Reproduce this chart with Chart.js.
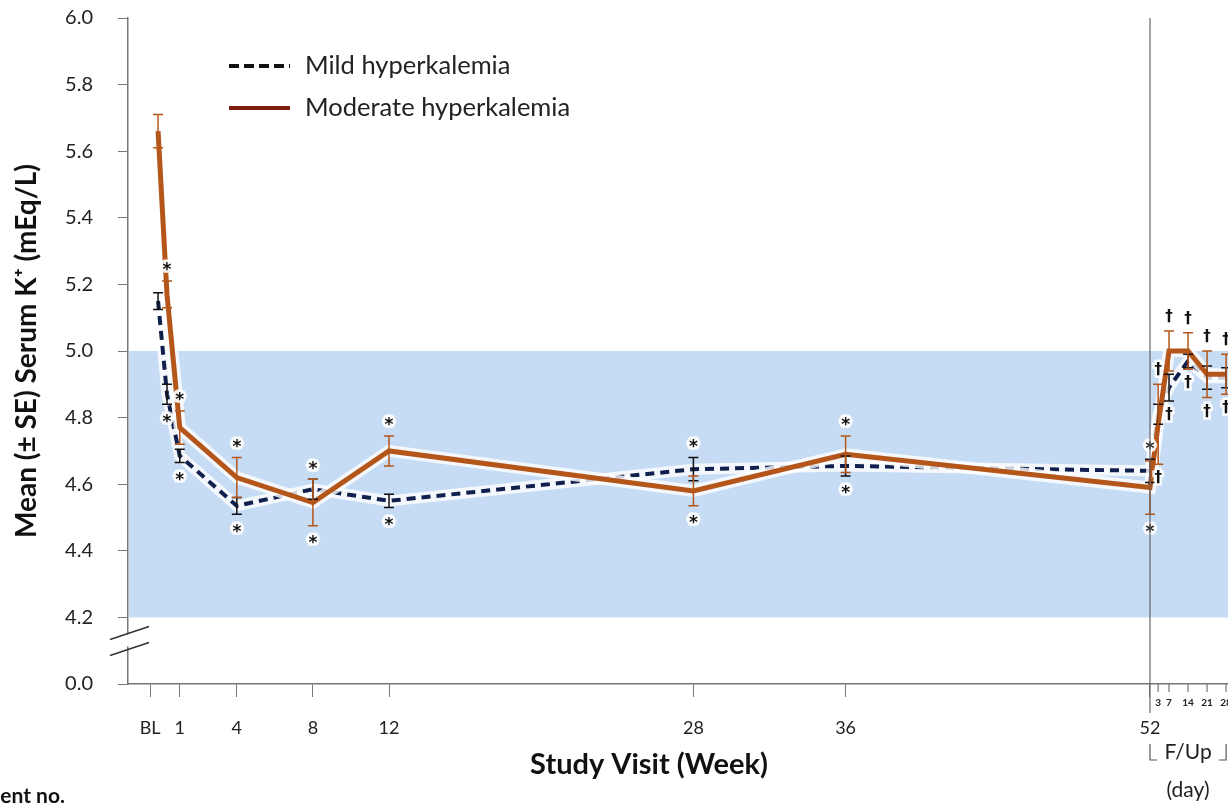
<!DOCTYPE html>
<html lang="en">
<head>
	<meta charset="UTF-8">
	<title>serum K+ by visit</title>
	<script src="https://cdn.jsdelivr.net/npm/chart.js@4.4.1/dist/chart.umd.min.js"></script>
	<style>
		html, body { margin: 0; padding: 0; background: #fff; }
	</style>
</head>
<body>
	<canvas id="myChart" width="1228" height="804"></canvas>
<script>
	// visits on a week scale (follow-up days sit after week 52 as day/7)
	const weeks = [-0.14, 0.33, 1, 4, 8, 12, 28, 36, 52, 52.43, 53, 54, 55, 56];
	const mildMean = [5.15, 4.87, 4.685, 4.535, 4.585, 4.55, 4.645, 4.655, 4.64, 4.81, 4.89, 4.97, 4.92, 4.92];
	const mildSE = [0.025, 0.03, 0.02, 0.025, 0.03, 0.02, 0.035, 0.03, 0.035, 0.03, 0.04, 0.02, 0.035, 0.03];
	const modMean = [5.66, 5.17, 4.77, 4.62, 4.545, 4.70, 4.58, 4.69, 4.59, 4.78, 5.00, 5.00, 4.93, 4.93];
	const modSE = [0.05, 0.04, 0.05, 0.06, 0.07, 0.045, 0.045, 0.055, 0.08, 0.12, 0.06, 0.055, 0.07, 0.06];
	const sigMarks = ['', '*', '*', '*', '*', '*', '*', '*', '*', '†', '†', '†', '†', '†'];

	const weekTicks = [-0.56, 1, 4, 8, 12, 28, 36, 52];
	const weekLabels = ['BL', '1', '4', '8', '12', '28', '36', '52'];
	const fupDays = [3, 7, 14, 21, 28];
	const yTicks = [4.0, 4.2, 4.4, 4.6, 4.8, 5.0, 5.2, 5.4, 5.6, 5.8, 6.0];
	const yLabels = ['0.0', '4.2', '4.4', '4.6', '4.8', '5.0', '5.2', '5.4', '5.6', '5.8', '6.0'];
	const normalRange = [4.2, 5.0];

	const FONT = 'Lato, "Open Sans", sans-serif';
	const NAVY = '#10204c';
	const BROWN = '#b4561a';

	const pts = arr => weeks.map((w, i) => ({ x: w, y: arr[i] }));

	const overlay = {
		id: 'overlay',
		beforeDraw(chart) {
			const { ctx, chartArea: a, scales: { y } } = chart;
			ctx.save();
			ctx.fillStyle = '#c6dcf4';
			const t = y.getPixelForValue(normalRange[1]), b = y.getPixelForValue(normalRange[0]);
			ctx.fillRect(a.left + 1, t, a.right - a.left, b - t);
			ctx.restore();
		},
		afterDatasetsDraw(chart) {
			const { ctx, scales: { x, y } } = chart;
			ctx.save();
			// error bars
			[[mildMean, mildSE, '#111'], [modMean, modSE, BROWN]].forEach(([m, se, col]) => {
				ctx.strokeStyle = col;
				ctx.lineWidth = 1.5;
				m.forEach((v, i) => {
					const px = x.getPixelForValue(weeks[i]);
					const t = y.getPixelForValue(v + se[i]), b = y.getPixelForValue(v - se[i]);
					ctx.beginPath();
					ctx.moveTo(px, t); ctx.lineTo(px, b);
					ctx.moveTo(px - 5, t); ctx.lineTo(px + 5, t);
					ctx.moveTo(px - 5, b); ctx.lineTo(px + 5, b);
					ctx.stroke();
				});
			});
			// significance marks above and below each visit
			ctx.textAlign = 'center';
			ctx.textBaseline = 'middle';
			sigMarks.forEach((s, i) => {
				if (!s) return;
				const px = x.getPixelForValue(weeks[i]);
				const top = Math.min(y.getPixelForValue(mildMean[i] + mildSE[i]), y.getPixelForValue(modMean[i] + modSE[i])) - 14;
				const bot = Math.max(y.getPixelForValue(mildMean[i] - mildSE[i]), y.getPixelForValue(modMean[i] - modSE[i])) + 14;
				const dy = s === '*' ? 4 : 0;
				ctx.font = s === '*' ? 'bold 17px "DejaVu Sans"' : 'bold 15px "DejaVu Sans"';
				[top, bot].forEach(py => {
					ctx.strokeStyle = 'rgba(255,255,255,0.9)';
					ctx.lineWidth = 5;
					ctx.strokeText(s, px, py + dy);
					ctx.fillStyle = '#111';
					ctx.fillText(s, px, py + dy);
				});
			});
			ctx.restore();
		},
		afterDraw(chart) {
			const { ctx, chartArea: a, scales: { x, y } } = chart;
			ctx.save();
			// axis break
			const yb = y.getPixelForValue(normalRange[0]) + 23;
			ctx.fillStyle = '#fff';
			ctx.fillRect(a.left - 2, yb - 6, 4, 12);
			ctx.strokeStyle = '#333';
			ctx.lineWidth = 1.6;
			ctx.beginPath();
			ctx.moveTo(a.left - 18, yb - 1); ctx.lineTo(a.left + 21, yb - 14);
			ctx.moveTo(a.left - 18, yb + 15); ctx.lineTo(a.left + 21, yb + 2);
			ctx.stroke();

			// week 52 divider
			const x52 = x.getPixelForValue(52);
			ctx.strokeStyle = '#666';
			ctx.lineWidth = 1.2;
			ctx.beginPath();
			ctx.moveTo(x52, a.top); ctx.lineTo(x52, a.bottom + 29);
			ctx.stroke();

			// follow-up day ticks
			ctx.strokeStyle = '#777';
			ctx.lineWidth = 1.2;
			ctx.fillStyle = '#222';
			ctx.font = 'bold 10px ' + FONT;
			ctx.textAlign = 'center';
			ctx.textBaseline = 'middle';
			fupDays.forEach(d => {
				const px = x.getPixelForValue(52 + d / 7);
				ctx.beginPath();
				ctx.moveTo(px, a.bottom); ctx.lineTo(px, a.bottom + 8);
				ctx.stroke();
				ctx.fillText(String(d), px, a.bottom + 19);
			});

			// F/Up bracket
			const xe = x.getPixelForValue(56);
			ctx.strokeStyle = '#555';
			ctx.beginPath();
			ctx.moveTo(x52, a.bottom + 60); ctx.lineTo(x52, a.bottom + 76); ctx.lineTo(x52 + 7, a.bottom + 76);
			ctx.moveTo(xe - 7, a.bottom + 76); ctx.lineTo(xe, a.bottom + 76); ctx.lineTo(xe, a.bottom + 60);
			ctx.stroke();
			ctx.font = '21px ' + FONT;
			ctx.fillStyle = '#222';
			const xm = (x52 + xe) / 2;
			ctx.fillText('F/Up', xm, a.bottom + 68);
			ctx.fillText('(day)', xm, a.bottom + 106);

			// x title
			ctx.font = 'bold 29px ' + FONT;
			ctx.fillStyle = '#111';
			ctx.fillText('Study Visit (Week)', 649, a.bottom + 81);

			// cut-off table caption
			ctx.font = 'bold 21px ' + FONT;
			ctx.textAlign = 'right';
			ctx.textBaseline = 'alphabetic';
			ctx.fillText('Patient no.', 65, 803);

			// legend
			ctx.textAlign = 'left';
			ctx.textBaseline = 'middle';
			ctx.font = '25.5px ' + FONT;
			const items = [
				{ label: 'Mild hyperkalemia', color: '#111', dash: [10, 5], y: 66 },
				{ label: 'Moderate hyperkalemia', color: '#7d1c0c', dash: [], y: 108 }
			];
			items.forEach(it => {
				ctx.strokeStyle = it.color;
				ctx.lineWidth = 4;
				ctx.setLineDash(it.dash);
				ctx.beginPath();
				ctx.moveTo(229, it.y); ctx.lineTo(290, it.y);
				ctx.stroke();
				ctx.setLineDash([]);
				ctx.fillStyle = '#222';
				ctx.fillText(it.label, 305, it.y);
			});
			ctx.restore();
		}
	};

	const ctx = document.getElementById('myChart').getContext('2d');
	const myChart = new Chart(ctx, {
		type: 'line',
		data: {
			datasets: [
				{ label: 'halo mild', data: pts(mildMean), borderColor: 'rgba(255,255,255,0.8)', borderWidth: 11, pointRadius: 0, order: 4 },
				{ label: 'Mild hyperkalemia', data: pts(mildMean), borderColor: NAVY, borderWidth: 4, borderDash: [9, 6], pointRadius: 0, order: 3 },
				{ label: 'halo moderate', data: pts(modMean), borderColor: 'rgba(255,255,255,0.8)', borderWidth: 12, pointRadius: 0, order: 2 },
				{ label: 'Moderate hyperkalemia', data: pts(modMean), borderColor: BROWN, borderWidth: 5, pointRadius: 0, order: 1 }
			]
		},
		options: {
			responsive: false,
			animation: false,
			devicePixelRatio: 1,
			layout: { padding: { top: 18, right: 0, left: 0, bottom: 0 } },
			plugins: { legend: { display: false }, tooltip: { enabled: false } },
			elements: { line: { tension: 0 } },
			scales: {
				x: {
					type: 'linear',
					min: -1.72,
					max: 56.1,
					afterBuildTicks: s => { s.ticks = weekTicks.map(v => ({ value: v })); },
					ticks: {
						autoSkip: false,
						maxRotation: 0,
						padding: 20,
						color: '#222',
						font: { family: FONT, size: 18 },
						callback: (v, i) => weekLabels[i]
					},
					grid: { drawOnChartArea: false, tickLength: 13, color: '#777' },
					border: { color: '#777', width: 1.5 },
					afterFit: s => { s.height = 120; }
				},
				y: {
					min: 4.0,
					max: 6.0,
					afterBuildTicks: s => { s.ticks = yTicks.map(v => ({ value: v })); },
					ticks: {
						padding: 25,
						color: '#222',
						font: { family: FONT, size: 20 },
						callback: (v, i) => yLabels[i]
					},
					grid: { drawOnChartArea: false, tickLength: 10, color: '#777' },
					border: { color: '#777', width: 1.5 },
					title: {
						display: true,
						text: 'Mean (± SE) Serum K⁺ (mEq/L)',
						color: '#111',
						font: { family: FONT, size: 28, weight: 'bold' },
						padding: { top: 10, bottom: 0 }
					},
					afterFit: s => {
						s.width = 128;
						// keep tick-label overflow from pushing the plot down
						s.paddingTop = 0;
						s.paddingBottom = 0;
					}
				}
			}
		},
		plugins: [overlay]
	});
</script>
</body>
</html>
